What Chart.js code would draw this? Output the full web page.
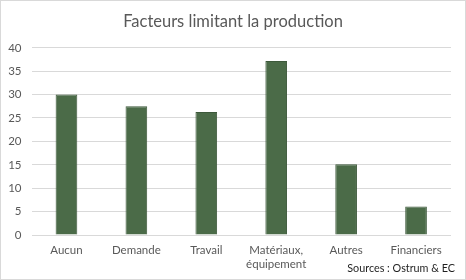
<!DOCTYPE html>
<html><head><meta charset="utf-8">
<script src="https://cdn.jsdelivr.net/npm/chart.js@4/dist/chart.umd.min.js"></script>
<style>
html,body{margin:0;padding:0;background:#fff;}
#wrap{position:relative;width:466px;height:280px;}
#src{position:absolute;right:11px;top:261px;font-family:Lato,"Open Sans",sans-serif;font-size:10.8px;color:#1f1f1f;white-space:nowrap;}
</style></head>
<body>
<div id="wrap"><canvas id="c" width="466" height="280"></canvas><div id="src">Sources : Ostrum &amp; EC</div></div>
<script>
const categories = [["Aucun"], ["Demande"], ["Travail"], ["Matériaux,", "équipement"], ["Autres"], ["Financiers"]];
const values = [30, 27.5, 26.3, 37.2, 15.1, 6.1];
const titleText = "Facteurs limitant la production";

const border = {id:'border', afterDraw(ch){const c=ch.ctx;c.save();c.strokeStyle='#d9d9d9';c.lineWidth=1;c.strokeRect(0.5,0.5,465,279);c.restore();}};
const bg = {id:'bg', beforeDraw(ch){const c=ch.ctx;c.save();c.fillStyle='#fff';c.fillRect(0,0,466,280);c.restore();}};

new Chart(document.getElementById('c'), {
  type:'bar',
  data:{labels:categories, datasets:[{data:values, backgroundColor:'#4B6B48', borderColor:'#3D593B', borderWidth:1, categoryPercentage:1, barPercentage:0.31}]},
  options:{
    responsive:false, animation:false, devicePixelRatio:1,
    layout:{padding:{left:0,right:0,top:0,bottom:0}},
    plugins:{
      legend:{display:false}, tooltip:{enabled:false},
      title:{display:true, text:titleText, color:'#595959', font:{family:'Lato', size:16.5, weight:'normal'}, padding:{top:12,bottom:16}}
    },
    scales:{
      x:{grid:{display:false, drawTicks:false}, border:{display:false},
         ticks:{color:'#595959', font:{family:'Lato', size:11.5, lineHeight:1.25}, padding:8, maxRotation:0, autoSkip:false},
         afterFit(s){s.height=45;}},
      y:{min:0,max:40, grid:{color:'#d9d9d9', drawTicks:false}, border:{display:false},
         ticks:{stepSize:5, color:'#595959', font:{family:'Lato', size:11.5}, padding:10},
         afterFit(s){s.width=31.5;}},
      yR:{position:'right', min:0, max:40, grid:{display:false, drawTicks:false}, border:{display:false},
         ticks:{display:false}, afterFit(s){s.width=15;}}
    }
  },
  plugins:[bg,border]
});
</script>
</body></html>
